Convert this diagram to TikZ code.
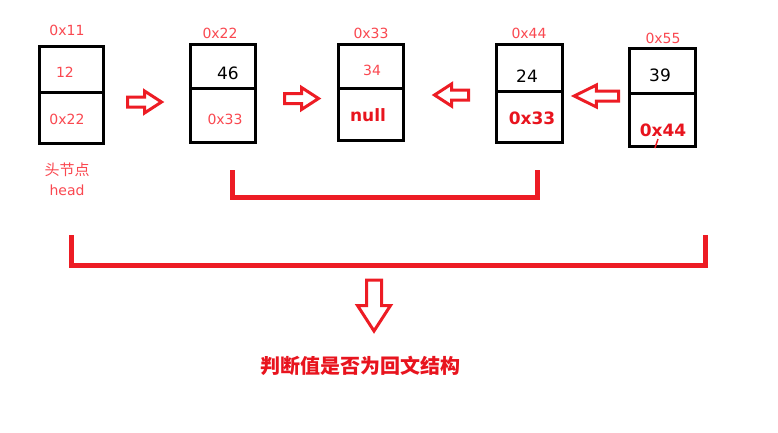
\documentclass[tikz,border=0pt]{standalone}
\usepackage{fontspec}
\setmainfont{DejaVu Sans}
\newfontfamily\cjk{Noto Sans CJK SC}
\definecolor{linered}{RGB}{237,28,36}
\definecolor{addrred}{RGB}{250,72,80}
\definecolor{boldred}{RGB}{232,20,30}
\tikzset{
	cell/.style={draw=black, line width=3pt, minimum width=#1, inner sep=0pt, outer sep=0pt},
	addr/.style={text=addrred, font=\fontsize{14}{16}\selectfont, inner sep=0pt},
	val/.style={text=black, font=\fontsize{17}{19}\selectfont, inner sep=0pt},
	ptr/.style={text=boldred, font=\fontsize{17}{19}\selectfont\bfseries, inner sep=0pt},
	bracket/.style={draw=linered, line width=5pt, line join=miter},
	hollow/.pic={\draw[linered, line width=3pt, line join=miter]
		(0,-5) -- (17,-5) -- (17,-11) -- (34,0) -- (17,11) -- (17,5) -- (0,5) -- cycle;}
}
\begin{document}
\begin{tikzpicture}[x=1pt, y=-1pt]
	\useasboundingbox[fill=white] (0,0) rectangle (778,432);
	
	% head node 0x11
	\node[cell=64pt, minimum height=46pt] (a1) at (71,69) {};
	\node[cell=64pt, minimum height=51pt] (b1) at (71,117.5) {};
	\node[addr] (l1) at (67,30) {0x11};
	\node[addr] (v1) at (65,72) {12};
	\node[addr] (p1) at (67,119) {0x22};
	\node[addr, font=\cjk\fontsize{15}{17}\selectfont] (h1) at (67,170) {头节点};
	\node[addr] (h2) at (67,190) {head};
	
	% node 0x22
	\node[cell=65pt, minimum height=44pt] (a2) at (222.5,66) {};
	\node[cell=65pt, minimum height=54pt] (b2) at (222.5,115) {};
	\node[addr] (l2) at (220,33) {0x22};
	\node[val] (v2) at (228,73) {46};
	\node[addr] (p2) at (225,119) {0x33};
	
	% node 0x33
	\node[cell=65pt, minimum height=44pt] (a3) at (370.5,66) {};
	\node[cell=65pt, minimum height=52pt] (b3) at (370.5,114) {};
	\node[addr] (l3) at (371,33) {0x33};
	\node[addr] (v3) at (372,70) {34};
	\node[ptr] (p3) at (368,115) {null};
	
	% node 0x44
	\node[cell=66pt, minimum height=47pt] (a4) at (529,67.5) {};
	\node[cell=66pt, minimum height=51pt] (b4) at (529,116.5) {};
	\node[addr] (l4) at (529,33) {0x44};
	\node[val] (v4) at (527,76) {24};
	\node[ptr] (p4) at (532,118) {0x33};
	
	% node 0x55
	\node[cell=66pt, minimum height=45pt] (a5) at (662,70.5) {};
	\node[cell=66pt, minimum height=53pt] (b5) at (662,119.5) {};
	\node[addr] (l5) at (663,38) {0x55};
	\node[val] (v5) at (660,75) {39};
	\node[ptr] (p5) at (663,130) {0x44};
	\draw[linered, line width=1.5pt] (658,139) -- (655,148);
	
	% arrows between the nodes
	\pic at (127.5,102) {hollow};
	\pic at (284.5,98.5) {hollow};
	\pic[rotate=180] at (468.5,95) {hollow};
	\pic[rotate=180, xscale=1.3] at (618.5,96) {hollow};
	
	% brackets
	\draw[bracket] (232.5,170) |- (537.5,197) -- (537.5,170);
	\draw[bracket] (71.5,235) |- (705,265) -- (705,235);
	
	\pic[rotate=-90, scale=1.5] at (374,280) {hollow};
	\node[text=boldred, font=\cjk\fontsize{20}{22}\selectfont\bfseries, inner sep=0pt] (res) at (360,366) {判断值是否为回文结构};
\end{tikzpicture}
\end{document}
